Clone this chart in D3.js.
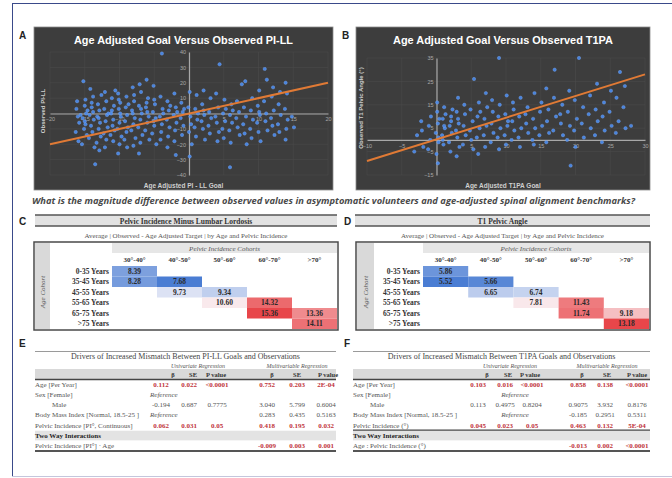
<!DOCTYPE html>
<html>
<head>
<meta charset="utf-8">
<script src="https://cdn.jsdelivr.net/npm/d3@7"></script>
<style>
  body { margin: 0; background: #fff; }
  svg { display: block; }
</style>
</head>
<body>
<svg id="fig" width="672" height="478"></svg>
<script>
// ---------- data ----------
// scatter A: [age adjusted PI-LL goal, observed PI-LL]
const piLLPoints = [
  [-16.2,3],[-16.0,-2],[-15.8,-6],[-16.3,-12],[-15.9,-18],[-16.1,8],[-15.6,-1],
  [-15.2,21],[-15.0,5],[-14.8,0],[-15.3,-3],[-14.9,-7],[-15.1,-10],[-14.7,-14],[-15.4,-20],[-14.6,2],[-15.0,-5],[-14.9,9],
  [-14.2,16],[-13.8,11],[-14.0,4],[-14.3,-1],[-13.7,-4],[-14.1,-8],[-13.9,-12],[-14.4,-16],[-13.6,-22],[-14.0,7],[-13.5,-33],[-13.8,1],
  [-13.1,6],[-12.9,2],[-13.2,-2],[-12.8,-6],[-13.0,-10],[-12.7,-15],[-13.3,-19],[-12.6,12],[-13.0,-3],[-12.9,-24],
  [-12.1,14],[-11.9,8],[-12.2,3],[-11.8,-1],[-12.0,-5],[-11.7,-9],[-12.3,-13],[-11.9,-17],[-12.1,-22],[-11.6,0],
  [-11.1,10],[-10.8,5],[-11.2,0],[-10.9,-4],[-11.0,-8],[-10.7,-11],[-11.3,-14],[-10.9,-18],[-11.1,2],[-10.6,15],
  [-10.2,13],[-9.9,7],[-10.1,3],[-9.8,-2],[-10.0,-6],[-10.3,-10],[-9.7,-15],[-10.0,-20],[-10.2,-26],[-9.9,0],[-10.1,9],
  [-9.1,4],[-8.9,-1],[-9.2,-5],[-8.8,-9],[-9.0,-12],[-9.3,-17],[-8.7,6],[-9.0,11],[-8.9,-22],
  [-8.1,17],[-7.9,8],[-8.2,2],[-7.8,-3],[-8.0,-7],[-8.3,-11],[-7.7,-16],[-8.0,-21],[-8.1,0],[-7.9,12],
  [-7.1,19],[-6.9,14],[-7.2,5],[-6.8,0],[-7.0,-4],[-7.3,-9],[-6.7,-14],[-7.0,-19],[-7.2,-26],[-6.9,3],
  [-6.1,22],[-5.9,10],[-6.2,4],[-5.8,-2],[-6.0,-6],[-6.3,-11],[-5.7,-17],[-6.0,1],[-6.1,7],
  [-5.1,18],[-4.9,6],[-5.2,1],[-4.8,-3],[-5.0,-8],[-5.3,-13],[-4.7,-20],[-5.0,9],[-5.1,-5],
  [-3.9,39],[-4.1,11],[-3.8,3],[-4.2,-2],[-3.9,-7],[-4.0,-12],[-4.1,-17],[-3.7,0],
  [-3.1,8],[-2.9,2],[-3.2,-4],[-2.8,-9],[-3.0,-15],[-3.1,-22],[-2.7,5],
  [-2.1,13],[-1.9,4],[-2.2,-1],[-1.8,-6],[-2.0,-11],[-2.1,-18],[-1.9,-27],[-1.7,1],
  [-1.1,7],[-0.9,1],[-1.2,-3],[-0.8,-8],[-1.0,-14],[-0.7,3],
  [0.1,14],[-0.1,4],[0.2,-2],[0.3,-7],[0.0,-12],[0.4,-20],[0.1,-28],
  [1.1,12],[0.9,3],[1.2,-4],[0.8,-9],[1.0,-15],[1.3,0],
  [2.1,15],[1.9,6],[2.2,-1],[1.8,-5],[2.0,-10],[2.3,-17],[2.1,2],
  [3.1,10],[2.9,1],[3.2,-3],[2.8,-8],[3.0,-13],
  [4.4,32],[3.9,13],[4.2,4],[3.8,-2],[4.0,-6],[4.3,-12],[4.1,-18],
  [5.1,9],[4.9,0],[5.2,-5],[4.8,-10],[5.0,-16],[5.3,3],
  [6.1,6],[5.9,-1],[6.2,-6],[5.8,-11],[5.9,-35],[6.3,2],[6.0,-19],
  [7.6,19],[6.9,8],[7.2,1],[6.8,-3],[7.0,-9],[7.3,-14],
  [8.1,21],[7.9,4],[8.2,-2],[7.8,-7],[8.0,-13],[8.3,-20],
  [9.1,10],[8.9,2],[9.2,-4],[8.8,-10],[9.0,-16],
  [10.1,15],[9.9,5],[10.2,-1],[9.8,-6],[10.0,-12],[10.3,-18],[10.1,1],
  [10.9,29],[11.2,22],[10.8,8],[11.1,0],[11.0,-5],[11.3,-11],
  [12.1,17],[11.9,11],[12.2,2],[11.8,-3],[12.0,-8],[12.3,-14],
  [13.1,14],[12.9,6],[13.2,-1],[12.8,-7],[13.0,-12],
  [13.9,20],[14.1,13],[13.8,3],[14.2,-4],[14.0,-10],[13.9,-17],
  [15.1,-9],[14.8,-2]
];
const piLLTrend = [[-20, -20], [20, 20]];
const piLLTicksX = [-20, -15, -10, -5, 0, 5, 10, 15, 20];
const piLLTicksY = [-40, -30, -20, -10, 0, 10, 20, 30, 40];

// scatter B: [age adjusted T1PA goal, observed T1PA]
const t1paPoints = [
  [-3.2,-5],[-2.8,2],[-2.1,4],[-1.9,-3],[-2.2,8],
  [-1.1,6],[-0.9,0],[-1.2,-4],[-0.8,10],
  [0.1,12],[0.2,7],[-0.1,3],[0.3,-1],[0.0,-6],[0.2,-10],[0.1,16],[0.4,9],[0.3,1],
  [1.1,14],[0.9,9],[1.2,5],[0.8,2],[1.0,-2],[1.3,11],[1.1,6],[0.9,0],
  [2.1,10],[1.9,6],[2.2,3],[1.8,-1],[2.0,-5],[2.3,13],[2.1,8],
  [3.1,18],[2.9,12],[3.2,7],[2.8,4],[3.0,1],[3.3,-3],[2.9,-7],[3.1,9],
  [4.1,11],[3.9,6],[4.2,2],[3.8,-2],[4.0,15],
  [5.4,26],[4.9,13],[5.2,8],[4.8,4],[5.0,0],[5.3,-4],
  [6.1,16],[5.9,10],[6.2,5],[5.8,1],[6.0,-6],[6.3,12],
  [7.1,20],[6.9,9],[7.2,6],[6.8,2],[7.0,-3],[7.3,14],
  [8.1,12],[7.9,7],[8.2,3],[7.8,-1],[8.0,17],
  [9.0,35],[9.1,15],[8.9,10],[9.2,5],[8.8,1],[9.0,-4],
  [10.1,19],[9.9,11],[10.2,6],[9.8,2],[10.0,-2],[10.3,8],
  [11.1,13],[10.9,8],[11.2,4],[10.8,0],[11.0,16],
  [12.1,18],[11.9,10],[12.2,5],[11.8,1],[12.0,-3],
  [13.1,14],[12.9,7],[13.2,3],[12.8,11],
  [14.1,20],[13.9,9],[14.2,5],[13.8,0],[14.0,-2],
  [15.8,22],[15.1,16],[14.9,12],[15.2,6],[14.8,2],
  [16.1,13],[15.9,8],[16.2,3],[15.8,-1],
  [17.0,30],[16.9,18],[17.2,10],[16.8,4],[19.3,-11],
  [18.1,15],[17.9,7],[18.2,2],[17.8,11],
  [19.1,21],[18.9,12],[19.2,6],[18.8,0],
  [20.5,35],[19.9,17],[20.2,9],[19.8,4],[20.0,-3],
  [21.1,14],[20.9,7],[21.2,1],
  [22.1,19],[21.9,11],[22.2,5],
  [23.1,24],[22.9,13],[23.2,8],[22.8,2],
  [24.1,16],[23.9,10],[24.2,4],[23.8,-1],
  [25.1,21],[24.9,12],[25.2,6],
  [26.4,29],[25.9,18],[26.2,8],[25.8,3],
  [27.1,23],[26.9,14],[27.2,5],
  [28.0,6]
];
const t1paTrend = [[-10, -9], [30, 28]];
const t1paTicksX = [-10, -5, 0, 5, 10, 15, 20, 25, 30];
const t1paTicksY = [-15, -5, 5, 15, 25, 35];

// heat tables
const ageCohorts = ['0-35 Years', '35-45 Years', '45-55 Years', '55-65 Years', '65-75 Years', '>75 Years'];
const piCohorts = ['30°-40°', '40°-50°', '50°-60°', '60°-70°', '>70°'];
const piLLMeans = [
  [8.39, null, null, null, null],
  [8.28, 7.68, null, null, null],
  [null, 9.73, 9.34, null, null],
  [null, null, 10.60, 14.32, null],
  [null, null, null, 15.36, 13.36],
  [null, null, null, null, 14.11]
];
const t1paMeans = [
  [5.86, null, null, null, null],
  [5.52, 5.66, null, null, null],
  [null, 6.65, 6.74, null, null],
  [null, null, 7.81, 11.43, null],
  [null, null, null, 11.74, 9.18],
  [null, null, null, null, 13.18]
];

// regression tables
const regColumns = ['β', 'SE', 'P value'];
const piLLRegRows = [
  { label: 'Age [Per Year]', uni: ['0.112', '0.022', '<0.0001'], multi: ['0.752', '0.203', '2E-04'], sig: true },
  { label: 'Sex [Female]', ref: true },
  { label: 'Male', indent: true, uni: ['-0.194', '0.687', '0.7775'], multi: ['3.040', '5.799', '0.6004'] },
  { label: 'Body Mass Index [Normal, 18.5-25 ]', ref: true, multi: ['0.283', '0.435', '0.5163'] },
  { label: 'Pelvic Incidence [PI°, Continuous]', uni: ['0.062', '0.031', '0.05'], multi: ['0.418', '0.195', '0.032'], sig: true },
  { label: 'Two Way Interactions', section: true },
  { label: 'Pelvic Incidence [PI°] · Age', multi: ['-0.009', '0.003', '0.001'], sig: true }
];
const t1paRegRows = [
  { label: 'Age [Per Year]', uni: ['0.103', '0.016', '<0.0001'], multi: ['0.858', '0.138', '<0.0001'], sig: true },
  { label: 'Sex [Female]', ref: true },
  { label: 'Male', indent: true, uni: ['0.113', '0.4975', '0.8204'], multi: ['0.9075', '3.932', '0.8176'] },
  { label: 'Body Mass Index [Normal, 18.5-25 ]', ref: true, multi: ['-0.185', '0.2951', '0.5311'] },
  { label: 'Pelvic Incidence (°)', uni: ['0.045', '0.023', '0.05'], multi: ['0.463', '0.132', '5E-04'], sig: true },
  { label: 'Two Way Interactions', section: true },
  { label: 'Age : Pelvic Incidence (°)', multi: ['-0.013', '0.002', '<0.0001'], sig: true }
];

const SANS = "'Liberation Sans', Arial, sans-serif";
const SERIF = "'Liberation Serif', 'Times New Roman', serif";

const svg = d3.select('#fig');

// outer frame
svg.append('line').attr('x1', 12).attr('x2', 672).attr('y1', 3.5).attr('y2', 3.5).attr('stroke', '#3a4a8a');
svg.append('line').attr('x1', 12.5).attr('x2', 12.5).attr('y1', 3).attr('y2', 477).attr('stroke', '#3a4a8a');
svg.append('line').attr('x1', 12).attr('x2', 672).attr('y1', 476.5).attr('y2', 476.5).attr('stroke', '#c4c6dc');

function panelLetter(txt, x, y) {
  svg.append('text').attr('x', x).attr('y', y).text(txt)
    .attr('font-family', SANS).attr('font-weight', 'bold').attr('font-size', 10).attr('fill', '#222');
}

// ---------- scatter panels ----------
function drawScatter(cfg) {
  const g = svg.append('g');
  const [bx, by, bw, bh] = cfg.box;
  g.append('rect').attr('x', bx).attr('y', by).attr('width', bw).attr('height', bh)
    .attr('fill', '#3d3d3d').attr('stroke', '#8c8c8c').attr('stroke-width', 0.8);

  const x = d3.scaleLinear().domain(cfg.xDomain).range(cfg.xRange);
  const y = d3.scaleLinear().domain(cfg.yDomain).range(cfg.yRange);

  // faint grid
  g.selectAll('.vg').data(cfg.xTicks).join('line')
    .attr('x1', d => x(d)).attr('x2', d => x(d))
    .attr('y1', y.range()[1]).attr('y2', y.range()[0])
    .attr('stroke', '#4b4b4b').attr('stroke-width', 0.6);
  g.selectAll('.hg').data(cfg.yTicks).join('line')
    .attr('y1', d => y(d)).attr('y2', d => y(d))
    .attr('x1', x.range()[0]).attr('x2', x.range()[1])
    .attr('stroke', '#4b4b4b').attr('stroke-width', 0.6);

  // axes crossing at zero
  const xAxis = g.append('g').attr('transform', `translate(0,${y(0)})`)
    .call(d3.axisBottom(x).tickValues(cfg.xTicks.filter(d => d !== 0)).tickSize(0).tickPadding(4));
  const yAxis = g.append('g').attr('transform', `translate(${x(0)},0)`)
    .call(d3.axisLeft(y).tickValues(cfg.yTicks.filter(d => d !== 0)).tickSize(0).tickPadding(3));
  [xAxis, yAxis].forEach(a => {
    a.select('.domain').attr('stroke', '#a8a8a8').attr('stroke-width', 1.2);
    a.selectAll('text').attr('fill', '#a8a8a8').attr('font-size', 5.5).attr('font-family', SANS);
  });

  // points
  g.selectAll('circle').data(cfg.points).join('circle')
    .attr('cx', d => x(d[0])).attr('cy', d => y(d[1])).attr('r', 1.7)
    .attr('fill', '#4a8cf0').attr('stroke', '#86b4ff').attr('stroke-width', 0.4).attr('opacity', 0.9);

  // trend line
  g.append('path').datum(cfg.trend)
    .attr('d', d3.line().x(d => x(d[0])).y(d => y(d[1])))
    .attr('stroke', '#e07a35').attr('stroke-width', 2).attr('fill', 'none');

  // titles
  g.append('text').attr('x', bx + bw / 2).attr('y', by + 17).attr('text-anchor', 'middle')
    .attr('font-family', SANS).attr('font-weight', 'bold').attr('font-size', 11.5).attr('fill', '#fff')
    .attr('textLength', cfg.titleLen).attr('lengthAdjust', 'spacingAndGlyphs').text(cfg.title);
  g.append('text').attr('x', bx + bw / 2).attr('y', by + bh - 2.5).attr('text-anchor', 'middle')
    .attr('font-family', SANS).attr('font-weight', 'bold').attr('font-size', 6.5).attr('fill', '#cfcfcf')
    .text(cfg.xTitle);
  g.append('text').attr('transform', `translate(${cfg.yTitleX},${cfg.yTitleY}) rotate(-90)`)
    .attr('text-anchor', 'middle').attr('font-family', SANS).attr('font-weight', 'bold')
    .attr('font-size', 6).attr('fill', '#cfcfcf').text(cfg.yTitle);
}

drawScatter({
  box: [34, 27, 299, 163], xDomain: [-20, 20], xRange: [50, 328], yDomain: [-40, 40], yRange: [175, 52],
  xTicks: piLLTicksX, yTicks: piLLTicksY, points: piLLPoints, trend: piLLTrend,
  title: 'Age Adjusted Goal Versus Observed PI-LL', titleLen: 219,
  xTitle: 'Age Adjusted PI - LL Goal', yTitle: 'Observed PI-LL', yTitleX: 45, yTitleY: 111
});
drawScatter({
  box: [356, 27, 294, 163], xDomain: [-10, 30], xRange: [367, 645], yDomain: [-15, 35], yRange: [175, 58],
  xTicks: t1paTicksX, yTicks: t1paTicksY, points: t1paPoints, trend: t1paTrend,
  title: 'Age Adjusted Goal Versus Observed T1PA', titleLen: 220,
  xTitle: 'Age Adjusted T1PA Goal', yTitle: 'Observed T1 Pelvic Angle (°)', yTitleX: 363, yTitleY: 108
});
panelLetter('A', 19, 39);
panelLetter('B', 342, 39);

// question line
svg.append('text').attr('x', 32).attr('y', 203.5)
  .attr('font-family', "'Liberation Sans Narrow', 'Open Sans', sans-serif").attr('font-style', 'italic').attr('font-weight', 'bold')
  .attr('font-size', 9.5).attr('fill', '#4a4a4a').attr('textLength', 603).attr('lengthAdjust', 'spacingAndGlyphs')
  .text('What is the magnitude difference between observed values in asymptomatic volunteers and age-adjusted spinal alignment benchmarks?');

// ---------- heat tables ----------
function drawHeat(cfg) {
  const g = svg.append('g');
  const [bx0, bx1] = cfg.span;
  // title bar
  g.append('rect').attr('x', bx0).attr('y', 215).attr('width', bx1 - bx0).attr('height', 11).attr('fill', '#e2e2e2');
  [215, 226].forEach(yy => g.append('line').attr('x1', bx0).attr('x2', bx1).attr('y1', yy).attr('y2', yy)
    .attr('stroke', '#555').attr('stroke-width', 1.5));
  g.append('text').attr('x', (bx0 + bx1) / 2).attr('y', 223.5).attr('text-anchor', 'middle')
    .attr('font-family', SERIF).attr('font-weight', 'bold').attr('font-size', 7.5).attr('fill', '#333').text(cfg.title);
  g.append('text').attr('x', (bx0 + bx1) / 2).attr('y', 238).attr('text-anchor', 'middle')
    .attr('font-family', SERIF).attr('font-size', 7).attr('fill', '#555')
    .text('Average | Observed - Age Adjusted Target | by Age and Pelvic Incidence');

  // box
  const top = 242, bottom = 330;
  g.append('rect').attr('x', cfg.box[0]).attr('y', top).attr('width', cfg.box[1] - cfg.box[0]).attr('height', bottom - top)
    .attr('fill', '#fff');
  g.append('rect').attr('x', cfg.box[0] + 1).attr('y', top + 1).attr('width', cfg.stripW).attr('height', bottom - top - 2)
    .attr('fill', '#d9d9d9');
  g.append('rect').attr('x', cfg.cols[0]).attr('y', top + 1).attr('width', cfg.box[1] - 1 - cfg.cols[0]).attr('height', 10)
    .attr('fill', '#e6e6e6');
  g.append('text').attr('transform', `translate(${cfg.box[0] + 1 + cfg.stripW / 2 + 2.5},${292}) rotate(-90)`)
    .attr('text-anchor', 'middle').attr('font-family', SERIF).attr('font-style', 'italic')
    .attr('font-size', 7).attr('fill', '#555').text('Age Cohort');

  const x = d3.scaleBand().domain(piCohorts).range(cfg.cols);
  const y = d3.scaleBand().domain(ageCohorts).range([266, 329]);
  g.append('text').attr('x', (cfg.cols[0] + cfg.cols[1]) / 2).attr('y', 250.5).attr('text-anchor', 'middle')
    .attr('font-family', SERIF).attr('font-style', 'italic').attr('font-size', 7).attr('fill', '#555')
    .text('Pelvic Incidence Cohorts');
  g.selectAll('.colh').data(piCohorts).join('text')
    .attr('x', d => x(d) + x.bandwidth() / 2).attr('y', 262).attr('text-anchor', 'middle')
    .attr('font-family', SERIF).attr('font-weight', 'bold').attr('font-size', 7).attr('fill', '#333').text(d => d);
  g.selectAll('.rowh').data(ageCohorts).join('text')
    .attr('x', cfg.cols[0] - 3).attr('y', d => y(d) + y.bandwidth() / 2 + 2.6).attr('text-anchor', 'end')
    .attr('font-family', SERIF).attr('font-weight', 'bold').attr('font-size', 7.5).attr('fill', '#333').text(d => d);

  const cells = [];
  cfg.grid.forEach((row, i) => row.forEach((v, j) => {
    if (v !== null) cells.push({ age: ageCohorts[i], pi: piCohorts[j], v });
  }));
  const vals = cells.map(c => c.v);
  const color = d3.scaleLinear()
    .domain([d3.min(vals), d3.median(vals), d3.max(vals)])
    .range(['#4a7dd3', '#fbf8fb', '#e8464a']);
  g.selectAll('.cell').data(cells).join('rect')
    .attr('x', d => x(d.pi)).attr('y', d => y(d.age))
    .attr('width', x.bandwidth()).attr('height', y.bandwidth())
    .attr('fill', d => color(d.v));
  g.selectAll('.cellv').data(cells).join('text')
    .attr('x', d => x(d.pi) + x.bandwidth() / 2).attr('y', d => y(d.age) + y.bandwidth() / 2 + 2.6)
    .attr('text-anchor', 'middle').attr('font-family', SERIF).attr('font-weight', 'bold')
    .attr('font-size', 7.5).attr('fill', '#2a2a2a').text(d => d.v.toFixed(2));

  g.append('rect').attr('x', cfg.box[0]).attr('y', top).attr('width', cfg.box[1] - cfg.box[0]).attr('height', bottom - top)
    .attr('fill', 'none').attr('stroke', '#4a4a4a').attr('stroke-width', 1.5);
}

drawHeat({ title: 'Pelvic Incidence Minus Lumbar Lordosis', span: [35, 337], box: [34, 338], stripW: 15,
  cols: [112, 337], grid: piLLMeans });
drawHeat({ title: 'T1 Pelvic Angle', span: [355, 650], box: [356, 650], stripW: 17,
  cols: [423, 649], grid: t1paMeans });
panelLetter('C', 19, 225);
panelLetter('D', 344, 225);

// ---------- regression tables ----------
function drawReg(cfg) {
  const g = svg.append('g');
  const [x0, x1] = cfg.span;
  const mid = (x0 + x1) / 2;
  g.append('line').attr('x1', x0).attr('x2', x1).attr('y1', 351.5).attr('y2', 351.5).attr('stroke', '#9a9a9a');
  g.append('text').attr('x', mid).attr('y', 359).attr('text-anchor', 'middle')
    .attr('font-family', SERIF).attr('font-size', 8).attr('fill', '#444').text(cfg.title);
  g.append('text').attr('x', cfg.uniX).attr('y', 367.5).attr('text-anchor', 'middle')
    .attr('font-family', SERIF).attr('font-style', 'italic').attr('font-size', 6).attr('fill', '#555').text('Univariate Regression');
  g.append('text').attr('x', cfg.multiX).attr('y', 367.5).attr('text-anchor', 'middle')
    .attr('font-family', SERIF).attr('font-style', 'italic').attr('font-size', 6).attr('fill', '#555').text('Multivariable Regression');
  g.append('rect').attr('x', x0).attr('y', 369).attr('width', x1 - x0).attr('height', 10).attr('fill', '#d9d9d9');
  g.append('line').attr('x1', x0).attr('x2', x1).attr('y1', 379.5).attr('y2', 379.5).attr('stroke', '#444').attr('stroke-width', 1.5);
  g.selectAll('.hd').data(cfg.headX).join('text')
    .attr('x', d => d).attr('y', 376.5).attr('text-anchor', 'middle')
    .attr('font-family', SERIF).attr('font-weight', 'bold').attr('font-size', 6.5).attr('fill', '#333')
    .text((d, i) => regColumns[i % 3]);

  const y = d3.scaleBand().domain(d3.range(cfg.rows.length)).range([379.5, 450.5]);
  cfg.rows.forEach((r, i) => {
    const by = y(i) + y.bandwidth() / 2 + 2.4;
    if (r.section) {
      g.append('rect').attr('x', x0).attr('y', y(i) + 0.5).attr('width', x1 - x0).attr('height', y.bandwidth() - 0.5)
        .attr('fill', '#e3e3e3');
      if (cfg.sectionRule) g.append('line').attr('x1', x0).attr('x2', x1).attr('y1', y(i)).attr('y2', y(i))
        .attr('stroke', '#444').attr('stroke-width', 1.3);
    }
    g.append('text').attr('x', r.indent ? cfg.labelX + 17 : cfg.labelX).attr('y', by)
      .attr('font-family', SERIF).attr('font-weight', r.section ? 'bold' : 'normal')
      .attr('font-size', 7).attr('fill', r.section ? '#222' : '#555').text(r.label);
    if (r.ref) {
      g.append('text').attr('x', cfg.refX).attr('y', by).attr('text-anchor', cfg.refAnchor)
        .attr('font-family', SERIF).attr('font-style', 'italic').attr('font-size', 7).attr('fill', '#555').text('Reference');
    }
    const vals = [];
    if (r.uni) r.uni.forEach((v, k) => vals.push({ v, x: cfg.valX[k] }));
    if (r.multi) r.multi.forEach((v, k) => vals.push({ v, x: cfg.valX[k + 3] }));
    g.selectAll(null).data(vals).join('text')
      .attr('x', d => d.x).attr('y', by).attr('text-anchor', 'middle')
      .attr('font-family', SERIF).attr('font-weight', r.sig ? 'bold' : 'normal')
      .attr('font-size', 7).attr('fill', r.sig ? '#c0333a' : '#555').text(d => d.v);
  });
  g.append('line').attr('x1', x0).attr('x2', x1).attr('y1', 451).attr('y2', 451).attr('stroke', '#555').attr('stroke-width', 1.8);
}

drawReg({ title: 'Drivers of Increased Mismatch Between PI-LL Goals and Observations', span: [35, 336],
  uniX: 198, multiX: 297, headX: [173, 193, 216, 272, 297, 328], valX: [161, 189, 217, 267, 297, 326],
  labelX: 35, refX: 150, refAnchor: 'start', rows: piLLRegRows, sectionRule: false });
drawReg({ title: 'Drivers of Increased Mismatch Between T1PA Goals and Observations', span: [353, 650],
  uniX: 510, multiX: 607, headX: [487, 508, 530, 582, 607, 637], valX: [478, 505, 532, 578, 605, 637],
  labelX: 353, refX: 515, refAnchor: 'middle', rows: t1paRegRows, sectionRule: true });
panelLetter('E', 19, 347);
panelLetter('F', 344, 347);
</script>
</body>
</html>
